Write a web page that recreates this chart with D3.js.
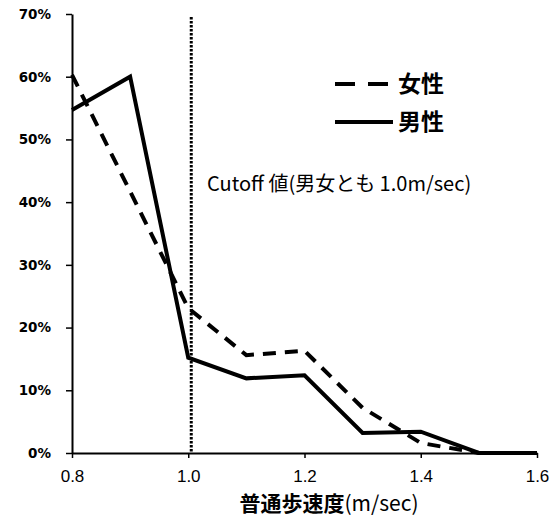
<!DOCTYPE html>
<html><head><meta charset="utf-8">
<script src="https://cdn.jsdelivr.net/npm/d3@7"></script>
<style>
body{margin:0;background:#fff;}
svg{display:block;}
</style></head>
<body>
<svg id="c" width="555" height="522"></svg>
<script>
const speeds = [0.8, 0.9, 1.0, 1.1, 1.2, 1.3, 1.4, 1.5, 1.6];
const female = [60.3, 41.7, 23.1, 15.6, 16.3, 7.2, 1.6, 0, 0];
const male   = [54.7, 60.0, 15.2, 11.9, 12.4, 3.2, 3.4, 0, 0];
const xTicks = [0.8, 1.0, 1.2, 1.4, 1.6];
const yTicks = [0, 10, 20, 30, 40, 50, 60, 70];
const cutoff = 1.0;
const seriesNames = ["女性", "男性"];
const xTitleCJK = "普通歩速度";
const xTitleUnit = "(m/sec)";
const cutoffLabel = "Cutoff 値(男女とも 1.0m/sec)";

const svg = d3.select("#c");
const x = d3.scaleLinear().domain([0.8, 1.6]).range([72, 537]);
const y = d3.scaleLinear().domain([0, 70]).range([453, 14]);

// axes
const xAxis = d3.axisBottom(x).tickValues(xTicks).tickFormat(d3.format(".1f")).tickSize(5).tickSizeOuter(0);
const gx = svg.append("g").attr("transform", `translate(0,${y(0)})`).call(xAxis);
gx.select(".domain").attr("stroke", "#000").attr("stroke-width", 2);
gx.selectAll(".tick line").attr("stroke", "#000").attr("stroke-width", 1.5);
gx.selectAll(".tick text").attr("font-family", "Liberation Sans, Arial, sans-serif")
  .attr("font-size", 17).attr("fill", "#000").attr("dy", "1.24em");

const yAxis = d3.axisLeft(y).tickValues(yTicks).tickFormat(d => d + "%").tickSize(6).tickSizeOuter(0);
const gy = svg.append("g").attr("transform", `translate(${x(0.8)},0)`).call(yAxis);
gy.select(".domain").attr("stroke", "#000").attr("stroke-width", 2);
gy.selectAll(".tick line").attr("stroke", "#000").attr("stroke-width", 1.5);
gy.selectAll(".tick text").attr("font-family", "DejaVu Sans, Verdana, sans-serif")
  .attr("font-weight", "bold").attr("font-size", 13.5).attr("fill", "#000").attr("x", -21);

// cutoff dotted line
svg.append("line")
  .attr("x1", x(cutoff) + 3).attr("x2", x(cutoff) + 3)
  .attr("y1", 17).attr("y2", y(0))
  .attr("stroke", "#000").attr("stroke-width", 3).attr("stroke-dasharray", "2.5,1.5");

const line = d3.line().x((d, i) => x(speeds[i])).y(d => y(d));

svg.append("path").datum(female).attr("d", line)
  .attr("fill", "none").attr("stroke", "#000").attr("stroke-width", 4)
  .attr("stroke-dasharray", "13,9");
svg.append("path").datum(male).attr("d", line)
  .attr("fill", "none").attr("stroke", "#000").attr("stroke-width", 4)
  .attr("stroke-linejoin", "miter");

// legend
const lg = svg.append("g");
lg.append("line").attr("x1", 335).attr("x2", 392).attr("y1", 84).attr("y2", 84)
  .attr("stroke", "#000").attr("stroke-width", 4).attr("stroke-dasharray", "20,13");
lg.append("line").attr("x1", 335).attr("x2", 393).attr("y1", 122).attr("y2", 122)
  .attr("stroke", "#000").attr("stroke-width", 4);
lg.selectAll("text.leg").data(seriesNames).join("text").attr("class", "leg")
  .attr("x", 398).attr("y", (d, i) => 84 + i * 38).attr("dy", "0.36em")
  .attr("font-family", "Noto Sans CJK JP, sans-serif").attr("font-weight", "bold")
  .attr("font-size", 23).attr("fill", "#000").text(d => d);

// cutoff label
svg.append("text").attr("x", 207).attr("y", 184).attr("dy", "0.35em")
  .attr("font-family", "Noto Sans CJK JP, sans-serif").attr("font-size", 20)
  .attr("fill", "#000").text(cutoffLabel);

// x title
const xt = svg.append("text").attr("x", 329).attr("y", 504).attr("dy", "0.35em")
  .attr("text-anchor", "middle")
  .attr("font-family", "Noto Sans CJK JP, sans-serif")
  .attr("font-size", 21).attr("fill", "#000");
xt.append("tspan").attr("font-weight", "bold").text(xTitleCJK);
xt.append("tspan").text(xTitleUnit);
</script>
</body></html>
